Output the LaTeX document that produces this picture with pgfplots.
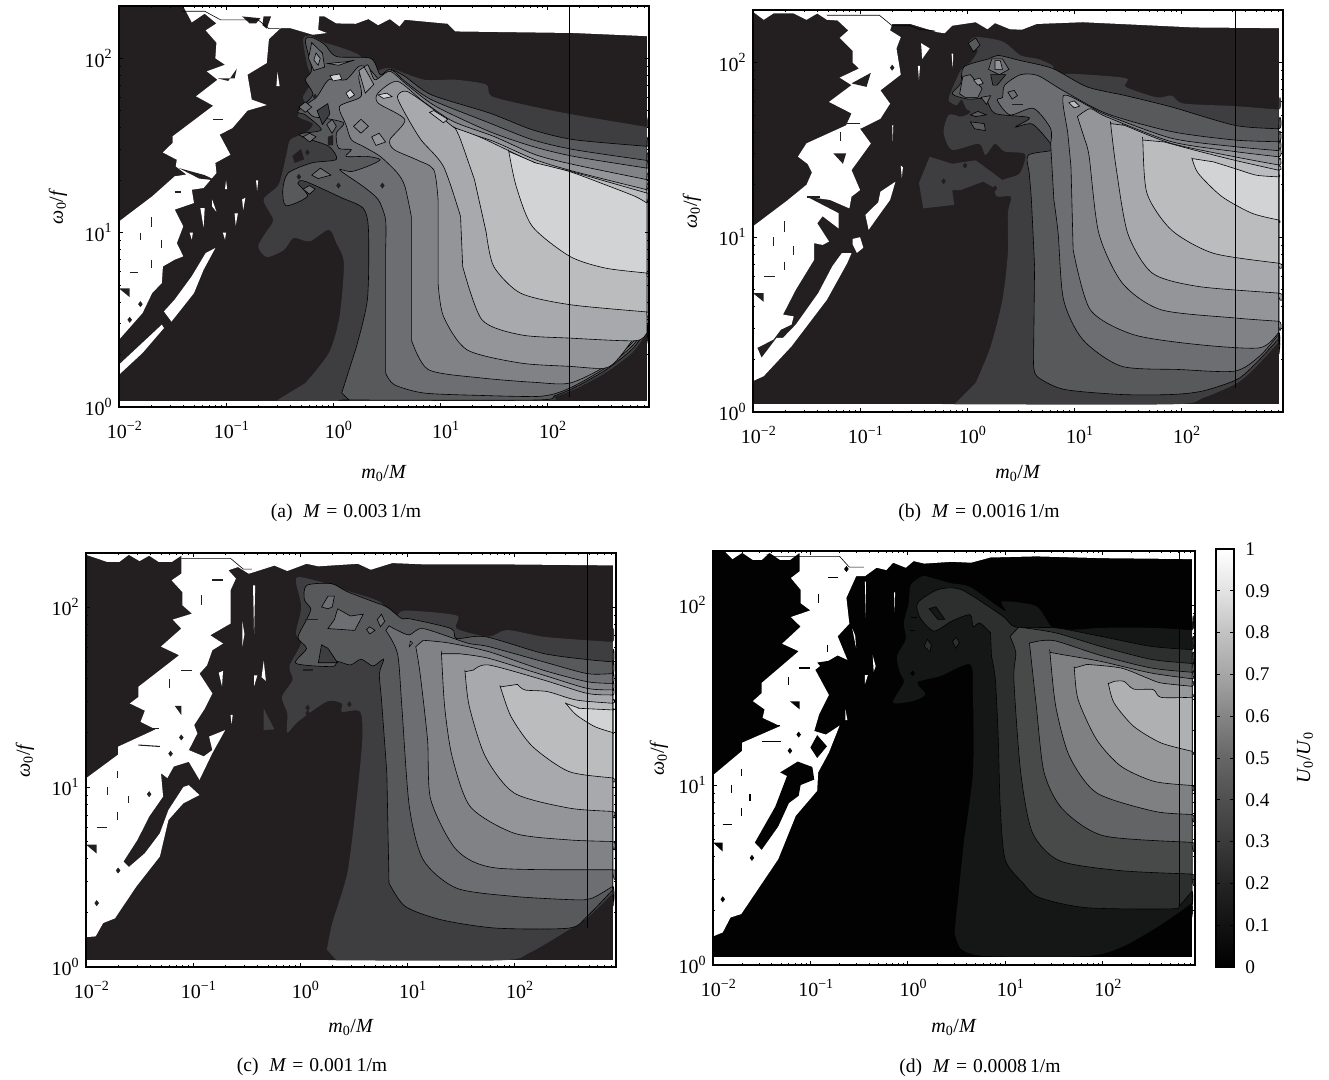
\documentclass[border=0pt]{standalone}
\usepackage{fontspec}
\setmainfont{Liberation Serif}
\usepackage{pgfplots}
\pgfplotsset{compat=1.18}
\definecolor{Da}{HTML}{231F20}
\definecolor{ca}{HTML}{3E3E40}
\definecolor{cb}{HTML}{58595B}
\definecolor{cc}{HTML}{6D6E71}
\definecolor{cd}{HTML}{808285}
\definecolor{ce}{HTML}{939598}
\definecolor{cf}{HTML}{A7A9AC}
\definecolor{cg}{HTML}{BABCBE}
\definecolor{ch}{HTML}{D1D3D4}
\definecolor{Dd}{HTML}{020202}
\definecolor{da}{HTML}{151616}
\definecolor{db}{HTML}{2D2E2E}
\definecolor{dc}{HTML}{484949}
\definecolor{dd}{HTML}{636465}
\definecolor{de}{HTML}{7F8081}
\definecolor{df}{HTML}{979899}
\definecolor{dg}{HTML}{AFB0B2}
\pgfdeclareverticalshading{cbar}{100bp}{rgb(0bp)=(0,0,0);rgb(25bp)=(0,0,0);rgb(30bp)=(.07,.07,.07);rgb(35bp)=(.14,.14,.14);rgb(40bp)=(.23,.23,.23);rgb(45bp)=(.31,.31,.31);rgb(50bp)=(.40,.40,.40);rgb(55bp)=(.52,.52,.52);rgb(60bp)=(.65,.65,.65);rgb(65bp)=(.76,.76,.76);rgb(70bp)=(.89,.89,.89);rgb(75bp)=(1,1,1);rgb(100bp)=(1,1,1)}
\newcommand\tp[1]{10\raisebox{.42em}{\fontsize{10.5}{12}\selectfont #1}}
\newcommand\fa[2]{\addplot[fill=#1,draw=none] coordinates {#2} -- cycle;}
\newcommand\la[2]{\addplot[fill=#1,draw=black,line width=.45pt] coordinates {#2} -- cycle;}
\newcommand\ls[2]{\addplot[smooth,tension=.45,fill=#1,draw=black,line width=.45pt] coordinates {#2} -- cycle;}
\newcommand\fs[2]{\addplot[smooth,tension=.45,fill=#1,draw=none] coordinates {#2} -- cycle;}
\newcommand\da[2]{\addplot[#1,line width=.8pt] coordinates {#2};}
\newcommand\cl[1]{\addplot[black,line width=.45pt] coordinates {#1};}
\newcommand\dm[2]{\addplot[only marks,mark=diamond*,mark size=1.9pt,color=#1] coordinates {#2};}
\newcommand\capt[2]{(#1)\hspace{.55em}\textit{M}\hspace{.3em}=\hspace{.3em}#2\,1/m}
\pgfplotsset{panel/.style={scale only axis,axis on top,anchor=south west,
 xmin=-2,xmax=2.95,ymin=0,ymax=2.30,
 xtick={-2,-1,0,1,2},xticklabels={\tp{−2},\tp{−1},\tp{0},\tp{1},\tp{2}},
 ytick={0,1,2},yticklabels={\tp{0},\tp{1},\tp{2}},
 minor xtick={-1.699,-1.523,-1.398,-1.301,-1.222,-1.155,-1.097,-1.046,-.699,-.523,-.398,-.301,-.222,-.155,-.097,-.046,.301,.477,.602,.699,.778,.845,.903,.954,1.301,1.477,1.602,1.699,1.778,1.845,1.903,1.954,2.301,2.477,2.602,2.699,2.778,2.845,2.903},
 minor ytick={.301,.477,.602,.699,.778,.845,.903,.954,1.301,1.477,1.602,1.699,1.778,1.845,1.903,1.954},
 tick align=inside,major tick length=3pt,minor tick length=1.6pt,
 tick style={black,line width=.5pt},axis line style={black,line width=.8pt},
 tick label style={font=\fontsize{15}{17}\selectfont},
 xticklabel style={yshift=-7pt,xshift=4pt},
 yticklabel style={xshift=-2pt},
 label style={font=\fontsize{15}{17}\selectfont},
 xlabel={\textit{m}\textsubscript{0}/\textit{M}},
 ylabel={\textit{ω}\textsubscript{0}/\textit{f}},
}}
\begin{document}
\begin{tikzpicture}
\path[use as bounding box] (0,0) rectangle (996.75pt,810pt);
% ---------- (a)
\begin{axis}[panel,at={(89.25pt,504.75pt)},width=397.5pt,height=300.75pt,
 x label style={at={(axis description cs:.5,-.165)},anchor=center},
 y label style={at={(axis description cs:-.115,.5)},anchor=center}]
\fa{Da}{(-2,.036) (2.93,.036) (2.93,2.30) (-2,2.30)}
\fa{white}{(-1.41,2.31) (2.97,2.31) (2.97,2.126) (2.25,2.145) (1.14,2.154) (1.07,2.198) (.67,2.221) (.62,2.183) (.53,2.225) (.42,2.19) (.33,2.225) (.21,2.198) (.03,2.20) (-.08,2.24) (-.13,2.24) (-.14,2.164) (-.06,2.145) (-.19,2.135) (-.40,2.173) (-.49,2.173) (-.60,2.11) (-.62,1.973) (-.80,1.906) (-.76,1.763) (-.62,1.732) (-.80,1.70) (-.94,1.60) (-1.06,1.562) (-.96,1.447) (-1.10,1.40) (-1.09,1.342) (-1.21,1.256) (-1.32,1.246) (-1.30,1.17) (-1.48,1.132) (-1.40,1.036) (-1.46,.94) (-1.40,.864) (-1.48,.845) (-1.59,.806) (-1.60,.711) (-1.69,.654) (-1.78,.539) (-2,.386) (-2,1.064) (-1.69,1.208) (-1.48,1.323) (-1.37,1.333) (-1.47,1.38) (-1.46,1.418) (-1.59,1.46) (-1.50,1.514) (-1.50,1.552) (-1.12,1.728) (-1.28,1.782) (-1.08,1.877) (-1.18,1.925) (-1.01,1.963) (-1.10,2.0) (-1.09,2.09) (-1.19,2.16) (-1.09,2.20) (-1.20,2.256) (-1.32,2.206)}
\fa{white}{(-2,.243) (-1.60,.472) (-1.58,.453) (-1.78,.31) (-2,.185)}
\fa{white}{(-1.58,.548) (-1.51,.49) (-1.30,.653) (-1.21,.787) (-1.10,.912) (-1.19,.883) (-1.32,.75) (-1.48,.616)}
\fa{white}{(-.52,1.92) (-.50,1.84) (-.53,1.84)}
\fa{white}{(-1.0,1.30) (-.99,1.25) (-1.01,1.25)}
\fa{white}{(-1.13,1.19) (-1.09,1.12) (-1.13,1.15)}
\fa{white}{(-1.24,1.14) (-1.20,1.14) (-1.21,1.03)}
\fa{white}{(-1.34,1.0) (-1.31,1.0) (-1.32,.96)}
\fa{white}{(-1.03,1.0) (-1.0,1.0) (-1.01,.96)}
\fa{white}{(-.92,1.11) (-.89,1.11) (-.91,1.04)}
\fa{white}{(-.85,1.19) (-.82,1.2) (-.84,1.13)}
\fa{white}{(-.72,1.30) (-.70,1.30) (-.71,1.24)}
\fa{Da}{(-1.44,1.37) (-1.20,1.33) (-1.10,1.30) (-1.25,1.31)}
\fa{Da}{(-.85,2.24) (-.78,2.20) (-.72,2.20) (-.68,2.23)}
\fa{Da}{(-.65,2.24) (-.58,2.24) (-.62,2.17) (-.66,2.19)}
\fa{Da}{(-2,.68) (-1.9,.68) (-1.9,.63)}
\fa{Da}{(-1.08,1.885) (-.92,1.885) (-.90,1.94) (-.98,1.87)}
\cl{(-1.41,2.27) (-1.2,2.27) (-1.05,2.22) (-.7,2.22) (-.6,2.17) (-.5,2.17)}
\dm{Da}{(-1.90,.50) (-1.80,.59)}
\da{Da}{(-1.9,.774) (-1.82,.774)}
\da{Da}{(-1.70,1.09) (-1.70,1.03)}
\da{Da}{(-1.80,1.0) (-1.80,.96)}
\da{Da}{(-1.60,.96) (-1.60,.91)}
\da{Da}{(-1.70,.845) (-1.70,.80)}
\da{Da}{(-1.12,1.648) (-1.03,1.648)}
\da{Da}{(-1.48,1.233) (-1.42,1.233)}
\fs{ca}{(-.53,.036) (-.53,.036) (1.89,.036) (2.07,.06) (2.25,.10) (2.54,.195) (2.79,.31) (2.93,.424) (2.93,.424) (2.93,1.606) (2.93,1.606) (2.25,1.676) (1.86,1.724) (1.48,1.782) (1.43,1.849) (1.14,1.877) (.85,1.877) (.53,1.944) (.39,1.93) (.24,2.02) (.03,2.07) (-.08,2.09) (-.22,2.13) (-.28,2.106) (-.24,1.954) (-.19,1.877) (-.28,1.781) (-.26,1.734) (-.33,1.667) (-.19,1.625) (-.26,1.571) (-.40,1.533) (-.44,1.437) (-.51,1.275) (-.65,1.189) (-.56,1.074) (-.63,1.0) (-.70,.921) (-.62,.86) (-.46,.90) (-.37,.97) (-.22,.95) (-.04,1.017) (.03,.94) (.10,.826) (.06,.52) (-.04,.31) (-.26,.137)}
\ls{cb}{(.08,.08) (.15,.04) (.15,.04) (1.89,.04) (2.07,.065) (2.25,.11) (2.54,.21) (2.79,.33) (2.93,.443) (2.93,.443) (2.93,1.495) (2.93,1.495) (2.25,1.533) (1.86,1.59) (1.46,1.686) (.92,1.79) (.67,1.896) (.53,1.938) (.44,1.906) (.35,2.0) (.03,2.01) (-.08,2.08) (-.20,2.12) (-.26,2.10) (-.20,1.935) (-.26,1.877) (-.19,1.79) (-.33,1.695) (-.26,1.676) (-.11,1.59) (-.31,1.567) (-.26,1.543) (-.04,1.495) (.03,1.42) (-.20,1.40) (-.42,1.342) (-.47,1.246) (-.44,1.154) (-.24,1.208) (-.33,1.284) (-.26,1.294) (.08,1.2) (.28,1.14) (.33,1.017) (.32,.616) (.21,.33)}
\ls{cc}{(.49,.195) (.57,.128) (.85,.08) (1.39,.066) (1.89,.06) (2.07,.076) (2.25,.12) (2.54,.223) (2.79,.348) (2.93,.462) (2.93,.462) (2.93,1.414) (2.93,1.414) (2.25,1.476) (1.86,1.533) (1.46,1.629) (.92,1.762) (.67,1.868) (.55,1.93) (.44,1.877) (.33,1.944) (.24,1.954) (.12,1.877) (-.04,1.877) (-.15,1.781) (-.26,1.724) (-.19,1.667) (-.08,1.657) (.10,1.629) (.03,1.571) (.05,1.485) (.17,1.476) (.12,1.437) (.32,1.437) (.44,1.418) (.32,1.38) (.17,1.35) (.06,1.36) (.28,1.265) (.42,1.19) (.49,1.074) (.49,.902)}
\la{cc}{(-.20,2.09) (-.10,2.03) (-.08,1.95) (-.18,1.93) (-.23,2.0)}
\la{ce}{(-.16,2.03) (-.12,2.0) (-.14,1.96) (-.18,1.99)}
\ls{cd}{(.73,.386) (.89,.214) (1.39,.166) (1.89,.141) (2.21,.137) (2.54,.233) (2.79,.367) (2.93,.481) (2.93,.481) (2.93,1.37) (2.93,1.37) (2.25,1.437) (1.86,1.495) (1.46,1.58) (.96,1.724) (.69,1.848) (.53,1.925) (.39,1.877) (.32,1.963) (.24,1.896) (.26,1.781) (.06,1.724) (.12,1.619) (.17,1.533) (.28,1.495) (.44,1.437) (.60,1.342) (.67,1.266) (.73,1.093)}
\ls{ce}{(.98,.711) (1.03,.52) (1.25,.328) (1.75,.252) (2.21,.233) (2.54,.223) (2.68,.29) (2.93,.50) (2.93,.50) (2.93,1.304) (2.93,1.304) (2.25,1.39) (1.89,1.447) (1.50,1.552) (1.12,1.638) (.84,1.753) (.60,1.868) (.42,1.801) (.42,1.743) (.67,1.648) (.53,1.533) (.57,1.476) (.78,1.418) (.94,1.361) (.98,1.189)}
\ls{cf}{(1.21,.806) (1.39,.50) (1.75,.414) (2.21,.395) (2.82,.38) (2.93,.424) (2.93,.424) (2.93,1.246) (2.93,1.246) (2.25,1.351) (1.89,1.418) (1.50,1.523) (1.14,1.60) (.94,1.705) (.69,1.81) (.60,1.781) (.67,1.686) (.82,1.533) (1.03,1.38) (1.19,1.093)}
\ls{cg}{(1.43,1.0) (1.50,.806) (1.75,.653) (2.21,.587) (2.93,.545) (2.93,.545) (2.93,1.227) (2.93,1.227) (2.25,1.346) (1.89,1.40) (1.39,1.543) (1.14,1.60) (1.14,1.60) (1.19,1.533) (1.32,1.304)}
\ls{ch}{(1.64,1.466) (1.64,1.466) (1.71,1.265) (1.86,1.036) (2.21,.864) (2.54,.797) (2.93,.768) (2.93,.768) (2.93,1.17) (2.93,1.17) (2.82,1.208) (2.54,1.275) (2.21,1.35) (1.89,1.40) (1.89,1.40)}
\la{cg}{(.90,1.69) (.94,1.70) (1.07,1.65) (1.03,1.63)}
\la{ce}{(.24,1.93) (.29,1.95) (.38,1.85) (.30,1.80)}
\la{cd}{(.12,1.98) (.2,1.99) (.05,1.96) (-.05,1.97)}
\la{ch}{(-.03,1.90) (.06,1.91) (.08,1.88) (0,1.87)}
\la{ca}{(-.15,1.70) (-.05,1.74) (-.03,1.68) (-.10,1.62)}
\fa{Da}{(-.38,1.44) (-.30,1.48) (-.27,1.42) (-.36,1.40)}
\fa{Da}{(-.05,1.55) (0,1.56) (.0,1.50) (-.05,1.50)}
\la{cc}{(-.20,1.33) (-.12,1.37) (-.02,1.33) (-.14,1.31)}
\la{cc}{(-.28,1.25) (-.22,1.27) (-.17,1.25) (-.22,1.22)}
\la{ce}{(.36,1.55) (.43,1.57) (.49,1.52) (.40,1.50)}
\la{cc}{(-.32,1.72) (-.26,1.75) (-.20,1.72) (-.26,1.69)}
\la{cc}{(-.28,1.55) (-.22,1.57) (-.16,1.55) (-.22,1.52)}
\la{cc}{(-.06,1.62) (-.01,1.65) (.03,1.61) (-.01,1.57)}
\la{cd}{(.19,1.61) (.26,1.65) (.33,1.61) (.26,1.57)}
\la{ch}{(.12,1.80) (.16,1.82) (.20,1.79) (.15,1.77)}
\la{ch}{(.42,1.79) (.50,1.80) (.55,1.78) (.47,1.77)}
\dm{Da}{(-.32,1.32) (.05,1.27) (.46,1.27) (-.17,1.78) (-.24,1.46)}
\addplot[black,line width=.45pt] coordinates {(2.21,2.30) (2.21,.06)};
\end{axis}
\node[font=\fontsize{14.7}{17}\selectfont] at (259.5pt,425.25pt) {\capt{a}{0.003}};
% ---------- (b)
\begin{axis}[panel,at={(564.75pt,501pt)},width=397.5pt,height=301.5pt,
 x label style={at={(axis description cs:.5,-.152)},anchor=center},
 y label style={at={(axis description cs:-.115,.5)},anchor=center}]
\fa{Da}{(-2,.044) (2.91,.044) (2.91,2.30) (-2,2.30)}
\fa{white}{(-2,2.29) (-1.90,2.244) (-1.81,2.28) (-1.62,2.28) (-1.50,2.244) (-1.40,2.28) (-1.31,2.244) (-1.21,2.24) (-1.11,2.183) (-1.19,2.14) (-1.07,2.067) (-1.07,2.0) (-1.01,1.965) (-1.19,1.913) (-1.08,1.87) (-1.29,1.774) (-1.08,1.708) (-1.13,1.64) (-1.50,1.537) (-1.58,1.461) (-1.49,1.419) (-1.45,1.37) (-1.50,1.30) (-1.68,1.21) (-2,1.062) (-2,.177) (-1.90,.205) (-1.64,.376) (-1.31,.642) (-1.12,.852) (-1.08,.909) (-1.17,.909) (-1.26,.833) (-1.39,.681) (-1.60,.50) (-1.72,.424) (-1.78,.424) (-1.92,.31) (-1.96,.367) (-1.81,.414) (-1.74,.471) (-1.64,.50) (-1.62,.547) (-1.72,.557) (-1.60,.70) (-1.43,.87) (-1.43,.966) (-1.35,.956) (-1.29,.975) (-1.40,1.08) (-1.35,1.12) (-1.20,1.05) (-1.20,1.137) (-1.38,1.194) (-1.50,1.232) (-1.28,1.213) (-1.10,1.165) (-1.08,1.232) (-1.00,1.27) (-1.08,1.384) (-.90,1.536) (-1.0,1.62) (-.81,1.678) (-.72,1.764) (-.81,1.84) (-.62,1.93) (-.66,2.08) (-.62,2.145) (-.72,2.183) (-.70,2.22) (-.53,2.22) (-.28,2.173) (-.21,2.167) (-.14,2.21) (.08,2.23) (.19,2.19) (.26,2.225) (.40,2.19) (.51,2.187) (.65,2.22) (1.08,2.23) (2.12,2.20) (2.91,2.196) (2.97,2.196) (2.97,2.31) (-2,2.31)}
\fa{white}{(-.67,1.317) (-.81,1.26) (-.83,1.2) (-.95,1.127) (-.92,1.042) (-.81,1.137) (-.72,1.213)}
\fa{white}{(-1.07,.99) (-1.0,1.0) (-.97,.94) (-1.03,.91) (-1.07,.96)}
\fa{white}{(-.43,2.11) (-.35,2.08) (-.42,2.02)}
\fa{white}{(-.145,2.05) (-.13,2.05) (-.135,1.97)}
\fa{white}{(-.70,1.64) (-.69,1.64) (-.695,1.55)}
\fa{white}{(-.62,1.41) (-.60,1.40) (-.61,1.34)}
\fa{white}{(-.46,1.98) (-.44,1.98) (-.45,1.90)}
\fa{Da}{(-1.08,1.88) (-.90,1.94) (-.94,1.86)}
\fa{Da}{(-2,.68) (-1.9,.68) (-1.9,.63)}
\fa{Da}{(-1.25,1.48) (-1.13,1.48) (-1.16,1.42)}
\cl{(-1.31,2.27) (-.82,2.27) (-.70,2.21) (-.53,2.21) (-.45,2.19) (-.30,2.18)}
\dm{Da}{(-.70,1.97) (-1.0,1.365)}
\da{Da}{(-1.90,.775) (-1.79,.775)}
\da{Da}{(-1.71,1.09) (-1.71,1.03)}
\da{Da}{(-1.81,1.0) (-1.81,.95)}
\da{Da}{(-1.62,.95) (-1.62,.90)}
\da{Da}{(-1.71,.86) (-1.71,.81)}
\da{Da}{(-1.18,1.60) (-1.18,1.55)}
\da{Da}{(-1.12,1.65) (-1.0,1.65)}
\da{Da}{(-1.50,1.23) (-1.37,1.23)}
\fs{ca}{(-.12,.044) (-.12,.044) (1.91,.044) (2.20,.08) (2.52,.165) (2.70,.26) (2.91,.40) (2.91,.40) (2.91,1.73) (2.91,1.73) (2.50,1.75) (2.02,1.765) (1.91,1.81) (1.77,1.80) (1.48,1.86) (1.48,1.91) (.98,1.935) (.83,1.925) (.80,1.98) (.66,2.02) (.50,2.04) (.33,2.12) (.08,2.145) (.01,2.105) (.10,2.07) (.03,2.0) (-.06,1.955) (-.17,1.80) (-.14,1.765) (.03,1.72) (-.05,1.69) (-.17,1.70) (-.22,1.60) (-.14,1.50) (.11,1.535) (.17,1.47) (.26,1.535) (.35,1.49) (.54,1.475) (.49,1.365) (.33,1.327) (.26,1.28) (.28,1.232) (.41,1.232) (.38,1.137) (.38,.909) (.33,.643) (.22,.376) (.08,.167)}
\fa{ca}{(-.35,1.46) (-.14,1.42) (.08,1.44) (.33,1.327) (.26,1.28) (.15,1.318) (-.06,1.27) (-.14,1.27) (-.12,1.185) (-.41,1.165) (-.45,1.31)}
\ls{cb}{(.62,.285) (.65,.205) (.90,.13) (1.44,.10) (1.91,.10) (2.20,.12) (2.52,.186) (2.70,.28) (2.91,.42) (2.91,.42) (2.91,1.62) (2.91,1.62) (2.50,1.64) (1.91,1.745) (1.48,1.81) (1.12,1.86) (.80,1.965) (.50,2.01) (.29,2.04) (.20,2.02) (-.03,1.975) (-.06,1.88) (-.14,1.82) (.01,1.79) (.17,1.79) (.26,1.708) (.58,1.684) (.45,1.63) (.61,1.647) (.78,1.535) (.80,1.498) (.57,1.469) (.58,1.365) (.60,1.213) (.63,.832)}
\ls{cc}{(.81,1.213) (.85,1.022) (.90,.643) (1.08,.414) (1.44,.262) (1.98,.243) (2.50,.234) (2.73,.319) (2.91,.443) (2.91,.443) (2.91,1.546) (2.91,1.546) (2.50,1.556) (1.91,1.604) (1.30,1.708) (.89,1.841) (.66,1.925) (.50,1.93) (.35,1.87) (.33,1.80) (.28,1.784) (.40,1.70) (.62,1.737) (.78,1.622) (.78,1.537)}
\ls{cd}{(.99,.927) (1.15,.585) (1.55,.443) (2.15,.386) (2.73,.367) (2.91,.454) (2.91,.454) (2.91,1.495) (2.91,1.495) (2.50,1.518) (1.91,1.566) (1.30,1.70) (1.15,1.745) (.90,1.81) (.94,1.594) (.97,1.402)}
\ls{ce}{(1.10,1.556) (1.14,1.46) (1.23,1.022) (1.45,.737) (1.81,.585) (2.50,.538) (2.91,.519) (2.91,.519) (2.91,1.46) (2.91,1.46) (2.50,1.49) (1.91,1.546) (1.30,1.689) (1.15,1.735) (1.03,1.69)}
\ls{cf}{(1.34,1.65) (1.34,1.65) (1.39,1.403) (1.50,1.022) (1.73,.794) (2.16,.718) (2.91,.68) (2.91,.68) (2.91,1.413) (2.91,1.413) (2.50,1.46) (1.91,1.536) (1.47,1.64) (1.47,1.64)}
\ls{cg}{(1.64,1.556) (1.64,1.556) (1.68,1.25) (1.91,1.04) (2.30,.908) (2.91,.851) (2.91,.851) (2.91,1.383) (2.91,1.383) (2.50,1.44) (2.13,1.497) (1.84,1.545) (1.84,1.545)}
\ls{ch}{(2.10,1.45) (2.10,1.45) (2.16,1.364) (2.38,1.232) (2.66,1.137) (2.91,1.098) (2.91,1.098) (2.91,1.345) (2.91,1.345) (2.70,1.355) (2.50,1.393) (2.30,1.431) (2.30,1.431)}
\la{cc}{(.23,2.02) (.33,2.02) (.39,1.96) (.30,1.93) (.20,1.96)}
\la{ce}{(.26,2.01) (.31,2.01) (.33,1.96) (.26,1.96)}
\la{ca}{(.22,1.93) (.36,1.93) (.28,1.87) (.24,1.87)}
\la{cc}{(-.04,1.92) (.03,1.93) (.14,1.85) (.10,1.8) (-.02,1.80) (-.07,1.82)}
\la{ce}{(.06,1.90) (.12,1.91) (.15,1.88) (.10,1.87)}
\la{cb}{(.01,2.11) (.08,2.14) (.12,2.10) (.06,2.06)}
\la{cc}{(.13,1.80) (.22,1.81) (.18,1.76)}
\la{cb}{(.03,1.66) (.16,1.65) (.17,1.61) (.07,1.62)}
\la{cc}{(.38,1.83) (.44,1.84) (.47,1.81) (.42,1.79)}
\da{Da}{(.42,1.76) (.52,1.76)}
\la{cb}{(.03,1.70) (.10,1.72) (.18,1.70) (.08,1.69)}
\la{cg}{(.95,1.77) (1.0,1.78) (1.05,1.75) (1.0,1.74)}
\fa{Da}{(-.14,1.72) (-.05,1.79) (.0,1.72) (-.07,1.69)}
\dm{Da}{(-.22,1.32) (-.02,1.41) (.26,1.28)}
\addplot[black,line width=.45pt] coordinates {(2.50,2.30) (2.50,.14)};
\end{axis}
\node[font=\fontsize{14.7}{17}\selectfont] at (734.25pt,425.25pt) {\capt{b}{0.0016}};
% ---------- (c)
\begin{axis}[panel,at={(64.5pt,84.75pt)},width=397.5pt,height=310.5pt,
 x label style={at={(axis description cs:.5,-.147)},anchor=center},
 y label style={at={(axis description cs:-.115,.5)},anchor=center}]
\fa{Da}{(-2,.037) (2.92,.037) (2.92,2.30) (-2,2.30)}
\fa{white}{(-2,2.29) (-1.80,2.25) (-1.69,2.25) (-1.60,2.29) (-1.50,2.255) (-1.41,2.285) (-1.32,2.25) (-1.20,2.25) (-1.11,2.285) (-1.11,2.185) (-1.20,2.148) (-1.10,2.083) (-1.10,2.01) (-1.01,1.963) (-1.19,1.93) (-1.11,1.88) (-1.30,1.78) (-1.13,1.732) (-1.51,1.557) (-1.51,1.50) (-1.59,1.464) (-1.45,1.424) (-1.49,1.362) (-1.35,1.32) (-1.70,1.224) (-1.70,1.18) (-2,1.048) (-2,.166) (-1.91,.17) (-1.84,.244) (-1.73,.27) (-1.53,.447) (-1.31,.614) (-1.23,.817) (-1.09,.91) (-.94,.955) (-1.04,1.01) (-1.09,1.0) (-1.23,.872) (-1.31,.743) (-1.45,.632) (-1.60,.555) (-1.65,.586) (-1.52,.706) (-1.41,.836) (-1.28,.947) (-1.30,1.077) (-1.24,1.05) (-1.18,1.114) (-1.04,1.14) (-.94,1.04) (-.82,1.188) (-.70,1.316) (-.85,1.28) (-.82,1.205) (-.90,1.17) (-1.04,1.205) (-.96,1.298) (-.99,1.344) (-.89,1.436) (-.82,1.52) (-.94,1.63) (-.87,1.676) (-.82,1.76) (-.72,1.797) (-.84,1.843) (-.65,1.908) (-.65,2.093) (-.60,2.158) (-.67,2.204) (-.58,2.222) (-.48,2.185) (-.43,2.194) (-.24,2.23) (-.12,2.20) (.06,2.24) (.17,2.226) (.54,2.24) (.66,2.207) (.86,2.244) (1.15,2.237) (1.83,2.237) (2.94,2.231) (2.97,2.23) (2.97,2.31) (-2,2.31)}
\fa{white}{(-.44,2.12) (-.42,2.12) (-.43,1.85)}
\fa{white}{(-.54,1.92) (-.52,1.85) (-.54,1.78)}
\fa{white}{(-.34,1.70) (-.32,1.59) (-.36,1.61)}
\fa{white}{(-.76,1.635) (-.72,1.645) (-.73,1.56)}
\fa{white}{(-.43,1.62) (-.40,1.62) (-.43,1.56)}
\fa{white}{(-.65,1.40) (-.63,1.40) (-.64,1.35)}
\cl{(-1.11,2.27) (-.65,2.27) (-.53,2.21) (-.45,2.21)}
\dm{Da}{(-1.21,1.185) (-1.11,1.275) (-1.41,.96) (-1.9,.355) (-1.70,.536)}
\fa{Da}{(-2,.68) (-1.9,.68) (-1.9,.63)}
\fa{Da}{(-1.17,1.45) (-1.11,1.45) (-1.11,1.40)}
\da{Da}{(-1.90,.775) (-1.80,.775)}
\da{Da}{(-1.51,1.233) (-1.31,1.225)}
\da{Da}{(-1.44,1.324) (-1.32,1.324)}
\da{Da}{(-1.11,1.646) (-1.01,1.646)}
\da{Da}{(-.82,2.15) (-.72,2.15)}
\da{Da}{(-.92,2.065) (-.92,2.01)}
\da{Da}{(-1.22,1.60) (-1.22,1.55)}
\da{Da}{(-1.71,1.09) (-1.71,1.05)}
\da{Da}{(-1.80,1.0) (-1.80,.955)}
\da{Da}{(-1.60,.95) (-1.60,.91)}
\da{Da}{(-1.71,.86) (-1.71,.815)}
\fs{ca}{(.34,.037) (.34,.037) (1.87,.037) (2.14,.078) (2.51,.207) (2.68,.272) (2.92,.41) (2.92,.41) (2.92,1.806) (2.92,1.806) (2.68,1.815) (2.27,1.835) (1.93,1.872) (1.76,1.835) (1.46,1.88) (1.46,1.953) (.98,1.98) (.88,1.945) (.74,2.03) (.44,2.09) (.25,2.13) (0,2.166) (-.04,2.14) (.01,2.0) (-.04,1.854) (.01,1.80) (-.10,1.67) (-.07,1.595) (-.17,1.50) (-.12,1.41) (-.12,1.302) (-.02,1.363) (.25,1.475) (.39,1.464) (.39,1.418) (.56,1.418) (.58,1.26) (.52,.89) (.44,.52) (.30,.244) (.25,.096)}
\fa{ca}{(-.34,1.436) (-.24,1.32) (-.34,1.316)}
\ls{cb}{(.83,.466) (.98,.337) (1.32,.262) (1.83,.216) (2.51,.216) (2.68,.281) (2.92,.429) (2.92,.429) (2.92,1.695) (2.92,1.695) (2.68,1.708) (2.27,1.742) (1.73,1.835) (1.46,1.825) (1.41,1.88) (1.02,1.935) (.95,1.935) (.81,2.0) (.68,2.03) (.44,2.085) (.29,2.13) (.06,2.12) (.04,2.04) (.10,1.99) (.06,1.93) (-.02,1.83) (.06,1.77) (-.04,1.687) (.30,1.669) (.35,1.697) (.47,1.678) (.57,1.71) (.68,1.672) (.78,1.71) (.74,1.63) (.76,1.484) (.81,1.076)}
\la{ca}{(.20,1.79) (.26,1.77) (.35,1.69) (.17,1.69)}
\ls{cc}{(.80,1.87) (.91,1.74) (.95,1.445) (1.02,.89) (1.15,.595) (1.46,.438) (2.0,.392) (2.58,.373) (2.73,.383) (2.92,.448) (2.92,.448) (2.92,1.63) (2.92,1.63) (2.68,1.63) (2.27,1.696) (1.76,1.78) (1.56,1.80) (1.15,1.88) (1.02,1.845) (.91,1.87) (.83,1.895)}
\ls{cd}{(1.08,1.78) (1.12,1.632) (1.19,1.262) (1.22,.93) (1.46,.651) (1.83,.55) (2.92,.54) (2.92,.54) (2.92,1.575) (2.92,1.575) (2.68,1.585) (2.27,1.649) (1.76,1.752) (1.39,1.80) (1.15,1.815)}
\ls{ce}{(1.32,1.74) (1.32,1.74) (1.35,1.445) (1.42,1.168) (1.59,.89) (2.0,.743) (2.51,.706) (2.92,.697) (2.92,.697) (2.92,1.539) (2.92,1.539) (2.68,1.548) (2.27,1.622) (1.76,1.715) (1.49,1.74)}
\ls{cf}{(1.54,1.64) (1.54,1.64) (1.58,1.447) (1.73,1.169) (2.0,.966) (2.51,.883) (2.92,.864) (2.92,.864) (2.92,1.511) (2.92,1.511) (2.68,1.52) (2.27,1.595) (1.76,1.678) (1.62,1.65)}
\ls{cg}{(1.87,1.556) (1.87,1.556) (1.97,1.391) (2.17,1.225) (2.51,1.086) (2.92,1.05) (2.92,1.05) (2.92,1.465) (2.92,1.465) (2.58,1.483) (2.31,1.53) (2.10,1.539) (2.03,1.57)}
\ls{ch}{(2.48,1.465) (2.48,1.465) (2.58,1.40) (2.75,1.336) (2.92,1.302) (2.92,1.302) (2.92,1.428) (2.92,1.428) (2.61,1.437) (2.61,1.437)}
\la{cc}{(.20,2.0) (.26,2.06) (.32,2.06) (.30,2.0) (.26,1.99)}
\la{cc}{(.35,1.99) (.47,1.95) (.59,1.96) (.51,1.87) (.26,1.88) (.32,1.93)}
\la{cc}{(.62,1.875) (.65,1.89) (.70,1.87) (.65,1.85)}
\la{cc}{(.72,1.93) (.76,1.96) (.79,1.92) (.75,1.89)}
\la{ce}{(1.02,1.78) (1.03,1.81) (1.05,1.80)}
\dm{Da}{(.07,1.44) (.07,1.41) (.46,1.46)}
\da{Da}{(.05,1.93) (.17,1.93)}
\da{Da}{(-.12,1.78) (-.02,1.77)}
\da{Da}{(.03,1.65) (.12,1.65)}
\addplot[black,line width=.45pt] coordinates {(2.68,2.30) (2.68,.216)};
\end{axis}
\node[font=\fontsize{14.7}{17}\selectfont] at (234pt,9.75pt) {\capt{c}{0.001}};
% ---------- (d)
\begin{axis}[panel,at={(534.75pt,86.25pt)},width=361.5pt,height=310.5pt,
 x label style={at={(axis description cs:.5,-.152)},anchor=center},
 y label style={at={(axis description cs:-.112,.5)},anchor=center}]
\fa{Dd}{(-2,.043) (2.92,.043) (2.92,2.30) (-2,2.30)}
\fa{white}{(-1.90,2.31) (-1.80,2.255) (-1.70,2.29) (-1.59,2.25) (-1.50,2.25) (-1.42,2.29) (-1.31,2.25) (-1.21,2.25) (-1.11,2.29) (-1.11,2.187) (-1.20,2.15) (-1.10,2.085) (-1.10,2.01) (-1.0,1.97) (-1.20,1.933) (-1.10,1.88) (-1.29,1.785) (-1.12,1.743) (-1.50,1.567) (-1.50,1.51) (-1.59,1.466) (-1.47,1.42) (-1.49,1.373) (-1.31,1.327) (-1.70,1.235) (-1.70,1.19) (-2,1.054) (-2,.159) (-1.90,.181) (-1.82,.264) (-1.71,.283) (-1.33,.588) (-1.15,.829) (-.93,.968) (-.92,1.07) (-.81,1.18) (-.70,1.33) (-.84,1.28) (-.96,1.30) (-.91,1.393) (-.81,1.50) (-.95,1.64) (-.88,1.67) (-.72,1.72) (-.62,1.695) (-.72,1.826) (-.60,1.896) (-.63,2.04) (-.53,2.16) (-.44,2.16) (-.32,2.207) (-.22,2.194) (-.15,2.235) (-.02,2.207) (.06,2.244) (.17,2.23) (.45,2.24) (.65,2.235) (.85,2.264) (1.32,2.27) (2.01,2.26) (2.92,2.255) (2.97,2.25) (2.97,2.31)}
\fa{Dd}{(-1.50,.64) (-1.57,.68) (-1.36,.88) (-1.24,1.05) (-1.31,1.07) (-1.13,1.13) (-.98,1.10) (-.96,1.03) (-1.10,1.0) (-1.12,.94) (-1.22,.90) (-1.33,.77)}
\fa{Dd}{(-1.0,1.208) (-.93,1.277) (-.83,1.215) (-.93,1.15)}
\fa{Dd}{(-.93,1.68) (-.81,1.69) (-.74,1.55) (-.80,1.60)}
\fa{Dd}{(-2,.68) (-1.9,.68) (-1.9,.63)}
\fa{Dd}{(-1.21,1.465) (-1.11,1.465) (-1.11,1.42)}
\fa{white}{(-.44,2.13) (-.43,2.13) (-.43,1.93)}
\fa{white}{(-.14,2.07) (-.13,2.07) (-.135,1.96)}
\fa{white}{(-.36,1.72) (-.33,1.66) (-.35,1.63)}
\fa{white}{(-.44,1.61) (-.41,1.61) (-.44,1.56)}
\fa{white}{(-.64,1.42) (-.62,1.36) (-.64,1.36)}
\fa{white}{(-.57,1.87) (-.53,1.76) (-.54,1.83)}
\cl{(-1.45,2.28) (-1.40,2.27) (-.70,2.27) (-.60,2.21) (-.45,2.21)}
\dm{Dd}{(-.63,2.2) (-1.6,.595) (-1.12,1.28) (-1.21,1.19) (-1.90,.365)}
\da{Dd}{(-.82,2.155) (-.72,2.155)}
\da{Dd}{(-.92,2.06) (-.92,2.01)}
\da{Dd}{(-1.22,1.60) (-1.22,1.555)}
\da{Dd}{(-.82,1.78) (-.82,1.74)}
\da{Dd}{(-1.12,1.65) (-1.0,1.65)}
\da{Dd}{(-1.40,1.33) (-1.31,1.33)}
\da{Dd}{(-1.50,1.24) (-1.30,1.24)}
\da{Dd}{(-1.90,.78) (-1.80,.78)}
\da{Dd}{(-1.71,1.09) (-1.71,1.05)}
\da{Dd}{(-1.81,1.0) (-1.81,.955)}
\da{Dd}{(-1.62,.95) (-1.62,.91)}
\da{Dd}{(-1.71,.87) (-1.71,.825)}
\fs{da}{(.48,.18) (.55,.089) (.80,.05) (1.84,.05) (2.19,.098) (2.53,.2) (2.78,.29) (2.92,.347) (2.92,.347) (2.92,1.86) (2.92,1.86) (2.50,1.873) (1.98,1.873) (1.75,1.864) (1.49,1.873) (1.32,1.993) (.97,2.02) (1.0,1.966) (.64,2.10) (.45,2.12) (.25,2.15) (.15,2.16) (.03,2.11) (.01,2.01) (-.04,1.90) (-.02,1.81) (-.11,1.716) (-.08,1.624) (-.04,1.57) (-.15,1.458) (.06,1.467) (.18,1.504) (.10,1.57) (.34,1.606) (.64,1.67) (.67,1.495) (.67,1.07) (.58,.70)}
\ls{db}{(.86,1.715) (.90,1.585) (.93,1.25) (.95,.88) (1.0,.586) (1.18,.457) (1.35,.375) (1.84,.318) (2.71,.312) (2.79,.33) (2.92,.41) (2.92,.41) (2.92,1.752) (2.92,1.752) (2.50,1.77) (1.98,1.826) (1.52,1.873) (1.11,1.877) (.97,1.94) (.55,2.085) (.31,2.085) (.10,2.01) (.13,1.927) (.27,1.855) (.45,1.91) (.64,1.946) (.67,1.88) (.74,1.90) (.85,1.845)}
\la{da}{(.22,1.98) (.29,1.99) (.38,1.92) (.31,1.92)}
\ls{dc}{(1.05,1.825) (1.11,1.733) (1.09,1.585) (1.16,1.07) (1.28,.736) (1.56,.579) (2.19,.524) (2.92,.505) (2.92,.505) (2.92,1.675) (2.92,1.675) (2.50,1.698) (1.98,1.77) (1.52,1.845) (1.14,1.877)}
\ls{dd}{(1.25,1.789) (1.32,1.44) (1.40,1.07) (1.59,.866) (2.01,.718) (2.92,.681) (2.92,.681) (2.92,1.626) (2.92,1.626) (2.50,1.65) (1.98,1.72) (1.52,1.80) (1.35,1.80)}
\ls{de}{(1.46,1.737) (1.46,1.737) (1.52,1.437) (1.66,1.16) (1.94,.956) (2.53,.854) (2.92,.836) (2.92,.836) (2.92,1.59) (2.92,1.59) (2.50,1.622) (1.98,1.687) (1.59,1.724)}
\ls{df}{(1.71,1.65) (1.71,1.65) (1.75,1.474) (1.94,1.252) (2.19,1.104) (2.53,1.02) (2.92,.997) (2.92,.997) (2.92,1.548) (2.92,1.548) (2.60,1.567) (2.46,1.594) (2.19,1.65) (1.84,1.67)}
\ls{dg}{(2.06,1.563) (2.06,1.563) (2.12,1.455) (2.32,1.326) (2.60,1.234) (2.92,1.187) (2.92,1.187) (2.92,1.487) (2.92,1.487) (2.60,1.487) (2.52,1.53) (2.32,1.533) (2.22,1.576) (2.12,1.576)}
\la{db}{(.17,1.77) (.20,1.81) (.24,1.78) (.23,1.74)}
\la{db}{(.46,1.80) (.50,1.82) (.53,1.79) (.49,1.76)}
\da{Dd}{(.03,1.93) (.10,1.93)}
\da{Dd}{(.02,1.86) (.07,1.86)}
\dm{Dd}{(.05,1.62)}
\addplot[Dd,line width=.45pt] coordinates {(2.79,2.30) (2.79,.33)};
\end{axis}
\node[font=\fontsize{14.7}{17}\selectfont] at (735pt,9pt) {\capt{d}{0.0008}};
% ---------- colour bar
\begin{axis}[scale only axis,anchor=south west,at={(912pt,84.75pt)},width=13.5pt,height=313.5pt,
 xmin=0,xmax=1,ymin=0,ymax=1,xtick=\empty,axis on top,
 ytick={0,.1,.2,.3,.4,.5,.6,.7,.8,.9,1},
 yticklabels={0,0.1,0.2,0.3,0.4,0.5,0.6,0.7,0.8,0.9,1},
 tick align=inside,major tick length=3pt,tick style={black,line width=.5pt},
 axis line style={black,line width=.8pt},
 yticklabel pos=right,ytick pos=both,
 tick label style={font=\fontsize{14.5}{17}\selectfont},
 yticklabel style={xshift=5pt},
 label style={font=\fontsize{15}{17}\selectfont},
 axis background/.style={shade,shading=cbar},
 ylabel={\textit{U}\textsubscript{0}/\textit{U}\textsubscript{0}},
 y label style={at={(axis description cs:4.94,.5)},anchor=center}]
\addplot[draw=none] coordinates {(0,0) (1,1)};
\end{axis}
\end{tikzpicture}
\end{document}
